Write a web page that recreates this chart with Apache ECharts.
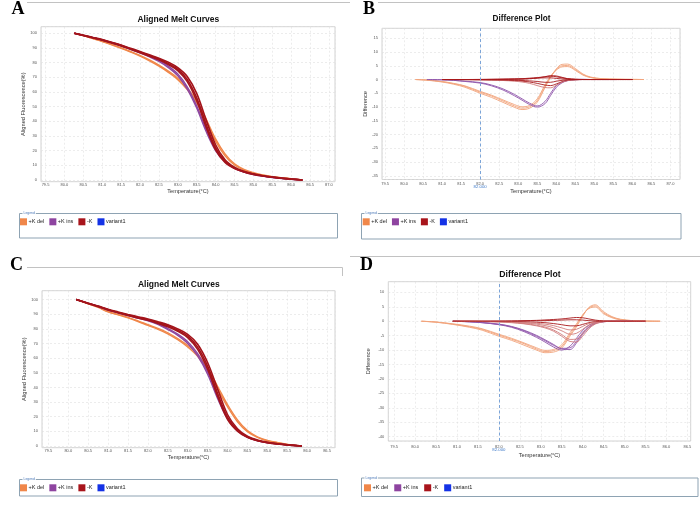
<!DOCTYPE html>
<html><head><meta charset="utf-8">
<script src="https://cdn.jsdelivr.net/npm/echarts@6/dist/echarts.min.js"></script>
<style>html,body{margin:0;padding:0;background:#fff}#c{width:700px;height:508px}</style>
</head><body><div id="c"></div>
<script>
// ---------- data ----------
const groups = ['+K del', '+K ins', '-K', 'variant1'];
const groupColors = ['#F0874A', '#8E44A0', '#A8141B', '#1432E6'];

// Panel A: aligned melt curves
const tempA = [80.26, 80.5, 80.75, 81.0, 81.25, 81.5, 81.75, 82.0, 82.25, 82.5, 82.75, 83.0, 83.25, 83.5, 83.75, 84.0, 84.25, 84.5, 84.75, 85.0, 85.25, 85.5, 85.75, 86.0, 86.3];
const aDel1 = [100, 98.4, 96.4, 94.4, 92.2, 89.8, 87.2, 84.4, 81.2, 77.6, 73.4, 68.4, 61.6, 52.5, 40, 26.5, 16.5, 10.2, 6.7, 4.6, 3.2, 2.2, 1.4, 0.8, 0];
const aDel2 = [100, 98.4, 96.5, 94.6, 92.4, 90.1, 87.6, 84.9, 81.8, 78.3, 74.2, 69.4, 62.8, 53.8, 41.5, 28, 17.8, 11.0, 7.2, 4.9, 3.4, 2.3, 1.5, 0.85, 0];
const aIns1 = [100, 98.6, 97.0, 95.4, 93.5, 91.4, 89.0, 86.6, 83.9, 80.8, 76.6, 71.0, 62, 49, 33, 20, 12.2, 7.8, 5.3, 3.7, 2.6, 1.7, 1.0, 0.5, 0];
const aIns2 = [100, 98.6, 97.1, 95.5, 93.7, 91.7, 89.4, 87.0, 84.4, 81.5, 77.6, 72.2, 63.5, 50.5, 34.5, 21, 12.8, 8.1, 5.5, 3.8, 2.7, 1.8, 1.05, 0.5, 0];
const aNeg1 = [100, 98.6, 97.0, 95.5, 93.6, 91.7, 89.4, 87.2, 84.8, 82.4, 79.3, 75.4, 68.5, 56, 38, 22, 12.8, 8.2, 5.6, 4.0, 2.8, 1.9, 1.2, 0.6, 0];
const aNeg2 = [100, 98.7, 97.2, 95.7, 93.9, 92.0, 89.8, 87.6, 85.3, 83.0, 80.2, 76.5, 70.5, 59, 41, 24, 13.8, 8.7, 5.9, 4.2, 2.9, 2.0, 1.25, 0.6, 0];
const aNeg3 = [100, 98.5, 96.9, 95.3, 93.4, 91.4, 89.1, 86.8, 84.4, 81.9, 78.6, 74.5, 67, 54, 36, 20.5, 12.0, 7.8, 5.4, 3.8, 2.7, 1.8, 1.1, 0.55, 0];

// Panel B: difference plot
const tempB = [80.3, 80.6, 81.0, 81.3, 81.6, 82.0, 82.3, 82.6, 82.9, 83.1, 83.3, 83.5, 83.7, 83.85, 84.0, 84.15, 84.3, 84.5, 84.7, 84.9, 85.2, 85.6, 86.0, 86.3];
const bDel1 = [0, -0.2, -0.8, -1.5, -2.5, -4.6, -6.0, -7.8, -9.6, -10.4, -9.9, -7.6, -2.5, 1.0, 3.6, 5.0, 5.1, 3.6, 1.8, 0.8, 0.3, 0.1, 0.05, 0];
const bDel2 = [0, -0.25, -0.9, -1.7, -2.8, -5.0, -6.5, -8.3, -10.1, -10.9, -10.4, -8.2, -3.0, 0.8, 3.9, 5.5, 5.6, 4.0, 2.0, 0.9, 0.3, 0.1, 0.05, 0];
const bDel3 = [0, -0.15, -0.7, -1.4, -2.3, -4.3, -5.7, -7.4, -9.1, -9.9, -9.4, -7.0, -2.0, 1.2, 3.4, 4.6, 4.7, 3.3, 1.6, 0.7, 0.2, 0.1, 0, 0];
const bIns1 = [null, 0, -0.1, -0.3, -0.6, -1.1, -2.0, -3.4, -5.4, -7.0, -8.6, -9.6, -8.0, -5.0, -2.2, -0.9, -0.3, 0, 0.1, 0, 0, 0, null, null];
const bIns2 = [null, 0, -0.1, -0.3, -0.7, -1.3, -2.3, -3.8, -5.9, -7.5, -9.1, -10.0, -8.8, -5.8, -2.8, -1.2, -0.4, -0.1, 0, 0, 0, 0, null, null];
const bNeg1 = [null, null, 0, 0, 0, 0, 0.05, 0.1, 0.2, 0.3, 0.5, 0.7, 1.0, 1.2, 1.0, 0.6, 0.3, 0.1, 0, 0, 0, 0, 0, null];
const bNeg2 = [null, null, 0, 0, -0.05, -0.1, -0.15, -0.25, -0.4, -0.6, -0.9, -1.4, -2.0, -2.2, -1.6, -0.8, -0.3, -0.1, 0, 0, 0, 0, 0, null];
const bNeg3 = [null, null, 0, 0, -0.05, -0.1, -0.2, -0.35, -0.6, -0.9, -1.4, -2.2, -2.9, -3.0, -2.1, -1.0, -0.4, -0.1, 0, 0, 0, 0, 0, null];
const bNeg4 = [null, null, 0, 0, 0, 0.05, 0.1, 0.15, 0.2, 0.25, 0.35, 0.5, 0.6, 0.6, 0.4, 0.2, 0.1, 0, 0, 0, 0, 0, 0, null];
const bNeg5 = [null, null, 0, 0, 0, -0.05, -0.1, -0.15, -0.25, -0.35, -0.5, -0.7, -1.0, -1.0, -0.6, -0.3, -0.1, 0, 0, 0, 0, 0, 0, null];
const bNeg6 = [null, null, 0, 0, 0, 0, 0, 0.05, 0.1, 0.15, 0.3, 0.55, 1.0, 1.4, 1.3, 0.8, 0.3, 0.1, 0, 0, 0, 0, 0, null];

// Panel C: aligned melt curves
const tempC = [80.2, 80.5, 80.75, 81.0, 81.25, 81.5, 81.75, 82.0, 82.25, 82.5, 82.75, 83.0, 83.25, 83.5, 83.75, 84.0, 84.25, 84.5, 84.75, 85.0, 85.25, 85.5, 85.87];
const cDel1 = [100, 97.0, 94.6, 91.5, 89.5, 87.4, 85.0, 82.3, 79.7, 76.6, 72.5, 67.6, 61.2, 51.7, 39.2, 26.8, 16.6, 9.8, 5.9, 3.6, 2.3, 1.1, 0];
const cDel2 = [100, 97.1, 94.8, 91.8, 89.8, 87.8, 85.4, 82.8, 80.3, 77.3, 73.3, 68.6, 62.4, 53, 40.8, 28.2, 17.8, 10.5, 6.3, 3.8, 2.4, 1.15, 0];
const cIns1 = [100, 97.4, 95.2, 92.8, 90.9, 89.0, 87.3, 85.5, 83.0, 79.5, 75.5, 70.0, 61.5, 49, 32.5, 18.5, 10.2, 5.9, 3.6, 2.2, 1.4, 0.7, 0];
const cIns2 = [100, 97.4, 95.3, 93.0, 91.1, 89.3, 87.6, 85.9, 83.5, 80.2, 76.4, 71.2, 63, 50.5, 34, 19.5, 10.8, 6.2, 3.8, 2.3, 1.45, 0.75, 0];
const cNeg1 = [100, 97.4, 95.3, 93.0, 91.2, 89.4, 87.8, 86.2, 84.2, 82.0, 79.0, 75.0, 67.5, 54.5, 36, 19.5, 10.8, 6.2, 3.8, 2.4, 1.5, 0.8, 0];
const cNeg2 = [100, 97.5, 95.5, 93.3, 91.5, 89.8, 88.2, 86.7, 84.8, 82.7, 79.9, 76.2, 69.5, 57, 39, 21.5, 11.8, 6.7, 4.1, 2.6, 1.6, 0.85, 0];
const cNeg3 = [100, 97.3, 95.2, 92.9, 91.0, 89.1, 87.4, 85.8, 83.7, 81.4, 78.3, 74.0, 66, 52.5, 34, 18.2, 10.2, 5.9, 3.6, 2.3, 1.4, 0.75, 0];

// Panel D: difference plot
const tempD = [80.15, 80.5, 80.9, 81.3, 81.6, 82.0, 82.3, 82.6, 82.9, 83.1, 83.3, 83.5, 83.7, 83.85, 84.0, 84.15, 84.3, 84.5, 84.7, 84.9, 85.2, 85.5, 85.85];
const dDel1 = [0, -0.3, -1.0, -1.9, -2.8, -4.8, -6.2, -7.8, -9.6, -10.5, -10.2, -8.8, -4.5, -1.5, 2.0, 4.6, 5.3, 2.9, 1.4, 0.6, 0.2, 0.05, 0];
const dDel2 = [0, -0.35, -1.1, -2.1, -3.1, -5.2, -6.6, -8.3, -10.0, -10.9, -10.7, -9.3, -5.1, -2.0, 1.7, 4.8, 5.7, 3.3, 1.6, 0.7, 0.2, 0.05, 0];
const dDel3 = [0, -0.25, -0.9, -1.7, -2.6, -4.5, -5.9, -7.5, -9.2, -10.1, -9.8, -8.2, -3.9, -1.0, 2.2, 4.4, 4.9, 2.6, 1.2, 0.5, 0.15, 0.05, 0];
const dIns1 = [null, null, 0, -0.2, -0.5, -1.2, -2.1, -3.6, -5.6, -7.2, -8.9, -10.0, -8.6, -6.0, -3.2, -1.4, -0.5, -0.1, 0, 0, 0, null, null];
const dIns2 = [null, null, 0, -0.2, -0.5, -1.1, -1.9, -3.3, -5.2, -6.7, -8.3, -9.4, -9.2, -7.0, -4.0, -1.9, -0.7, -0.1, 0, 0, 0, null, null];
const dIns3 = [null, null, 0, -0.15, -0.4, -1.0, -1.8, -3.1, -4.9, -6.4, -8.0, -9.6, -9.8, -7.6, -4.5, -2.2, -0.8, -0.2, 0, 0, 0, null, null];
const dNeg1 = [null, null, 0, 0, 0, 0.05, 0.1, 0.2, 0.3, 0.45, 0.6, 0.8, 1.1, 1.3, 1.2, 0.8, 0.4, 0.1, 0, 0, 0, 0, null];
const dNeg2 = [null, null, 0, 0, 0, -0.05, -0.1, -0.2, -0.35, -0.5, -0.8, -1.2, -1.6, -1.6, -1.1, -0.5, -0.2, 0, 0, 0, 0, 0, null];
const dNeg3 = [null, null, 0, 0, -0.05, -0.1, -0.2, -0.4, -0.7, -1.0, -1.5, -2.3, -3.0, -2.8, -1.8, -0.8, -0.3, -0.05, 0, 0, 0, 0, null];
const dNeg4 = [null, null, 0, 0, -0.05, -0.15, -0.3, -0.6, -1.0, -1.5, -2.2, -3.3, -4.5, -4.2, -2.8, -1.3, -0.5, -0.1, 0, 0, 0, 0, null];
const dNeg5 = [null, null, 0, 0, -0.1, -0.2, -0.4, -0.8, -1.4, -2.0, -3.0, -4.6, -6.3, -6.2, -4.2, -2.0, -0.7, -0.1, 0, 0, 0, 0, null];
const dNeg6 = [null, null, 0, 0, -0.1, -0.25, -0.5, -0.9, -1.6, -2.3, -3.4, -5.2, -7.0, -7.2, -5.2, -2.6, -1.0, -0.2, 0, 0, 0, 0, null];
const dNeg7 = [null, null, 0, 0, 0, 0.02, 0.05, 0.1, 0.15, 0.2, 0.3, 0.4, 0.5, 0.5, 0.4, 0.2, 0.1, 0, 0, 0, 0, 0, null];

const markTemp = 82.0;

// ---------- styling / layout ----------
const F = 'Liberation Sans';
const meltCol = {del: '#F0874A', ins: '#8E48A0', neg: '#A3141B'};
const diffCol = {del: '#F2A47C', ins: '#8F55AA', neg: '#A8181C', negL: '#D07A7A'};

function xAx(gi, min, max, nameGap, margin) {
  return {
    type: 'value', gridIndex: gi, min: min, max: max,
    minInterval: 0.5, maxInterval: 0.5, splitNumber: 15,
    name: 'Temperature(°C)', nameLocation: 'middle', nameGap: nameGap,
    nameTextStyle: {fontSize: 5.6, color: '#333', fontFamily: F},
    axisLine: {show: false}, axisTick: {show: false},
    axisLabel: {fontSize: 4, color: '#555', fontFamily: F, margin: margin,
      showMinLabel: false, showMaxLabel: false, formatter: v => v.toFixed(1)},
    splitLine: {show: true, lineStyle: {color: '#e0e0e0', width: 0.6, type: [2, 2]}}
  };
}
function yAx(gi, min, max, step, split, name, nameGap) {
  return {
    type: 'value', gridIndex: gi, min: min, max: max,
    minInterval: step, maxInterval: step, splitNumber: split,
    name: name, nameLocation: 'middle', nameGap: nameGap,
    nameTextStyle: {fontSize: 5.7, color: '#333', fontFamily: F},
    axisLine: {show: false}, axisTick: {show: false},
    axisLabel: {fontSize: 4, color: '#555', fontFamily: F, margin: 4,
      showMinLabel: false, showMaxLabel: false},
    splitLine: {show: true, lineStyle: {color: '#e0e0e0', width: 0.6, type: [2, 2]}}
  };
}
function ln(name, xs, ys, gi, color, width, extra) {
  const s = {
    type: 'line', name: name, xAxisIndex: gi, yAxisIndex: gi,
    data: xs.map((x, i) => [x, ys[i]]),
    symbol: 'none', showSymbol: false, smooth: 0.35, connectNulls: false,
    lineStyle: {color: color, width: width}, itemStyle: {color: color},
    silent: true, animation: false
  };
  return Object.assign(s, extra || {});
}
function emptyVariant(gi) {
  return {type: 'line', name: 'variant1', xAxisIndex: gi, yAxisIndex: gi, data: [],
    symbol: 'none', lineStyle: {color: groupColors[3]}, itemStyle: {color: groupColors[3]}, animation: false};
}
function markLine(dist) {
  return {markLine: {silent: true, symbol: ['none', 'none'], animation: false,
    data: [{xAxis: markTemp}],
    lineStyle: {color: '#7BA4D8', type: [3, 2.5], width: 1},
    label: {show: true, position: 'start', formatter: markTemp.toFixed(3),
      color: '#3C78C8', fontSize: 4.3, fontFamily: F, distance: dist}}};
}
function legend(left, top, gap) {
  return {
    data: groups.map((g, i) => ({name: g, itemStyle: {color: groupColors[i]}})),
    left: left, top: top, orient: 'horizontal', padding: 0,
    icon: 'rect', itemWidth: 7, itemHeight: 7, itemGap: gap, selectedMode: false,
    itemStyle: {borderWidth: 0},
    textStyle: {fontSize: 5.5, color: '#222', fontFamily: F, padding: [0, 0, 0, -3.5]}
  };
}
function titleAt(text, x, yc, fs) {
  return {text: text, left: x, top: yc - fs / 2, textAlign: 'center', padding: 0,
    textStyle: {fontSize: fs, fontWeight: 'bold', color: '#111', fontFamily: F}};
}
const gridStyle = {show: true, borderColor: '#c6c6c6', borderWidth: 0.8, backgroundColor: '#fff'};

const series = [
  // A
  ln('+K del', tempA, aDel1, 0, meltCol.del, 1.4), ln('+K del', tempA, aDel2, 0, meltCol.del, 1.4),
  ln('+K ins', tempA, aIns1, 0, meltCol.ins, 1.4), ln('+K ins', tempA, aIns2, 0, meltCol.ins, 1.4),
  ln('-K', tempA, aNeg1, 0, meltCol.neg, 1.6), ln('-K', tempA, aNeg2, 0, meltCol.neg, 1.6), ln('-K', tempA, aNeg3, 0, meltCol.neg, 1.6),
  emptyVariant(0),
  // B
  ln('+K del', tempB, bDel1, 1, diffCol.del, 0.9), ln('+K del', tempB, bDel2, 1, diffCol.del, 0.9), ln('+K del', tempB, bDel3, 1, diffCol.del, 0.9),
  ln('+K ins', tempB, bIns1, 1, diffCol.ins, 0.9), ln('+K ins', tempB, bIns2, 1, diffCol.ins, 0.9),
  ln('-K', tempB, bNeg1, 1, diffCol.neg, 0.9, markLine(5)), ln('-K', tempB, bNeg2, 1, diffCol.neg, 0.9),
  ln('-K', tempB, bNeg3, 1, diffCol.negL, 0.9), ln('-K', tempB, bNeg4, 1, diffCol.neg, 0.9),
  ln('-K', tempB, bNeg5, 1, diffCol.neg, 0.9), ln('-K', tempB, bNeg6, 1, diffCol.neg, 0.9),
  emptyVariant(1),
  // C
  ln('+K del', tempC, cDel1, 2, meltCol.del, 1.4), ln('+K del', tempC, cDel2, 2, meltCol.del, 1.4),
  ln('+K ins', tempC, cIns1, 2, meltCol.ins, 1.4), ln('+K ins', tempC, cIns2, 2, meltCol.ins, 1.4),
  ln('-K', tempC, cNeg1, 2, meltCol.neg, 1.6), ln('-K', tempC, cNeg2, 2, meltCol.neg, 1.6), ln('-K', tempC, cNeg3, 2, meltCol.neg, 1.6),
  emptyVariant(2),
  // D
  ln('+K del', tempD, dDel1, 3, diffCol.del, 0.9), ln('+K del', tempD, dDel2, 3, diffCol.del, 0.9), ln('+K del', tempD, dDel3, 3, diffCol.del, 0.9),
  ln('+K ins', tempD, dIns1, 3, diffCol.ins, 0.9), ln('+K ins', tempD, dIns2, 3, diffCol.ins, 0.9), ln('+K ins', tempD, dIns3, 3, diffCol.ins, 0.9),
  ln('-K', tempD, dNeg1, 3, diffCol.neg, 0.9, markLine(7)), ln('-K', tempD, dNeg2, 3, diffCol.neg, 0.9),
  ln('-K', tempD, dNeg3, 3, diffCol.negL, 0.9), ln('-K', tempD, dNeg4, 3, diffCol.negL, 0.9),
  ln('-K', tempD, dNeg5, 3, diffCol.negL, 0.9), ln('-K', tempD, dNeg6, 3, diffCol.negL, 0.9),
  ln('-K', tempD, dNeg7, 3, diffCol.neg, 0.9),
  emptyVariant(3)
];

function hline(x1, y1, x2, y2) {
  return {type: 'line', silent: true, shape: {x1: x1, y1: y1, x2: x2, y2: y2}, style: {stroke: '#c2c2c2', lineWidth: 1}};
}
function letter(t, x, y) {
  return {type: 'text', silent: true, x: x, y: y, style: {text: t, font: 'bold 18px "Liberation Serif"', fill: '#000', verticalAlign: 'middle'}};
}
function legendBox(x, y, w, h) {
  return [
    {type: 'rect', silent: true, shape: {x: x, y: y, width: w, height: h}, style: {fill: 'none', stroke: '#8ea3b3', lineWidth: 1}},
    {type: 'text', silent: true, x: x + 3, y: y, style: {text: 'Legend', font: '3.4px "Liberation Sans"', fill: '#4a78b8', verticalAlign: 'middle', backgroundColor: '#fff', padding: [0, 1]}}
  ];
}

const option = {
  backgroundColor: '#fff',
  animation: false,
  title: [
    titleAt('Aligned Melt Curves', 178.3, 19, 8.5),
    titleAt('Difference Plot', 521.5, 19, 8.2),
    titleAt('Aligned Melt Curves', 178.8, 284.3, 8.5),
    titleAt('Difference Plot', 530, 274, 8.7)
  ],
  grid: [
    Object.assign({left: 41, top: 26.7, width: 294, height: 155}, gridStyle),
    Object.assign({left: 382, top: 28.3, width: 298, height: 151.2}, gridStyle),
    Object.assign({left: 42, top: 290.7, width: 293, height: 157}, gridStyle),
    Object.assign({left: 388.3, top: 281.7, width: 302.4, height: 159.3}, gridStyle)
  ],
  xAxis: [
    xAx(0, 79.38, 87.16, 7, 1),
    xAx(1, 79.42, 87.25, 9.3, 2.5),
    xAx(2, 79.34, 86.7, 6.5, 1.2),
    xAx(3, 79.36, 86.58, 11.8, 4)
  ],
  yAxis: [
    yAx(0, -1.2, 104.5, 10, 10, 'Aligned Fluorescence(%)', 11.5),
    yAx(1, -36.3, 18.6, 5, 11, 'Difference', 10.9),
    yAx(2, -1.15, 106, 10, 10, 'Aligned Fluorescence(%)', 12.5),
    yAx(3, -41.5, 13.7, 5, 11, 'Difference', 16.5)
  ],
  legend: [
    legend(20, 218.3, 5.1),
    legend(362.7, 218.3, 5.0),
    legend(20, 484.3, 5.1),
    legend(364, 484.3, 6.0)
  ],
  graphic: {elements: [
    hline(27, 2.5, 350, 2.5), hline(378, 2.5, 700, 2.5),
    hline(27, 267.5, 342.5, 267.5), hline(342.5, 267.5, 342.5, 276),
    hline(350, 256.5, 700, 256.5),
    letter('A', 11.5, 9.2), letter('B', 363, 9.2), letter('C', 10, 265), letter('D', 360, 265.8)
  ].concat(legendBox(19.5, 213.5, 318, 24.5), legendBox(361.5, 213.5, 319.5, 25.5),
           legendBox(19.5, 479.5, 318, 16.5), legendBox(361.5, 478, 336.5, 18.5))},
  series: series
};

const chart = echarts.init(document.getElementById('c'), null, {renderer: 'canvas'});
chart.setOption(option);
</script>
</body></html>
